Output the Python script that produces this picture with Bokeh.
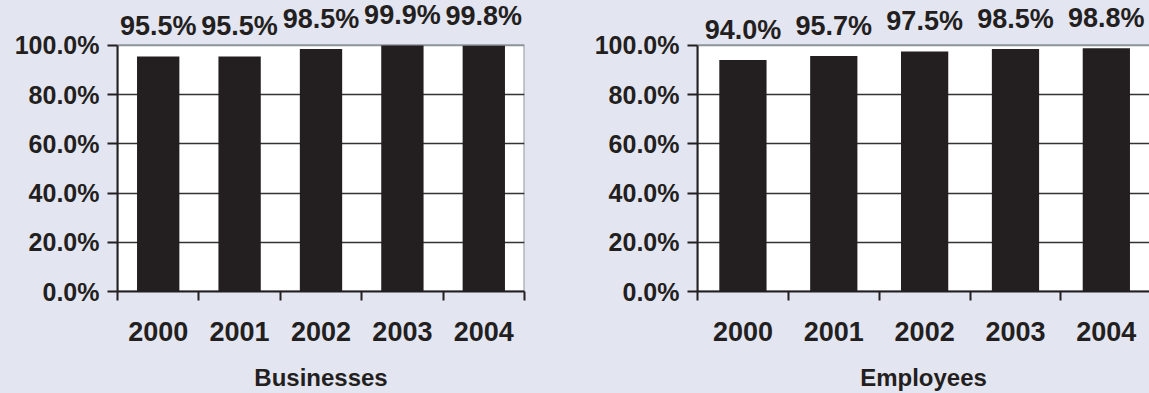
from bokeh.plotting import figure
from bokeh.layouts import row
from bokeh.models import (ColumnDataSource, Range1d, FixedTicker,
                          PrintfTickFormatter, BoxAnnotation, Grid)
from bokeh.core.properties import value
from bokeh.transform import dodge
from bokeh.embed import file_html
from bokeh.resources import INLINE

# Share of the total, by year
years = ["2000", "2001", "2002", "2003", "2004"]
businesses = [95.5, 95.5, 98.5, 99.9, 99.8]
employees = [94.0, 95.7, 97.5, 98.5, 98.8]
y_ticks = [0, 20, 40, 60, 80, 100]

BG = "#e3e5f1"
INK = "#231f20"
FRAME = "#8d939b"
FONT = "Liberation Sans"
Y_TOP = 118.2  # headroom above 100% for the value labels


def panel(title, values, width, border_left, border_right, x_end, label_gap):
    xs = [i + 0.5 for i in range(len(years))]
    src = ColumnDataSource(dict(x=xs, v=values, txt=[f"{v:.1f}%" for v in values]))

    p = figure(width=width, height=393,
               x_range=Range1d(0, x_end), y_range=Range1d(0, Y_TOP),
               output_backend="svg", toolbar_location=None,
               min_border_left=border_left, min_border_right=border_right,
               min_border_top=0, min_border_bottom=101,
               background_fill_color=BG, border_fill_color=BG,
               outline_line_color=None)

    p.xgrid.visible = False
    p.ygrid.visible = False

    # white plotting area from 0% to 100%, with a grey frame
    p.add_layout(BoxAnnotation(left=0, right=len(years), bottom=0, top=100,
                               fill_color="white", fill_alpha=1,
                               line_color=FRAME, line_alpha=1, line_width=2,
                               level="underlay"))
    p.add_layout(Grid(dimension=1, ticker=FixedTicker(ticks=[20, 40, 60, 80]),
                      grid_line_color="#333333", grid_line_width=1.5,
                      level="underlay"))

    p.vbar(x="x", top="v", width=0.52, bottom=0, source=src,
           fill_color=INK, line_color=None)

    # value labels above the bars
    p.text(x="x", y=dodge("v", label_gap, range=p.y_range), text="txt", source=src,
           text_align="center", text_baseline="alphabetic",
           text_font=value(FONT), text_font_style="bold",
           text_font_size=value("27px"), text_color=INK)

    # y axis
    yax = p.yaxis[0]
    yax.bounds = (0, 100)
    yax.ticker = FixedTicker(ticks=y_ticks)
    yax.formatter = PrintfTickFormatter(format="%.1f%%")
    yax.major_label_text_font = FONT
    yax.major_label_text_font_style = "bold"
    yax.major_label_text_font_size = "25px"
    yax.major_label_text_color = INK
    yax.major_label_standoff = 8
    yax.major_tick_out = 10
    yax.major_tick_in = 0
    yax.major_tick_line_width = 2
    yax.major_tick_line_color = INK
    yax.minor_tick_line_color = None
    yax.axis_line_width = 2
    yax.axis_line_color = INK

    # x axis: year names under the bars, tick marks between them
    xax = p.xaxis[0]
    xax.ticker = FixedTicker(ticks=xs, minor_ticks=list(range(len(years) + 1)))
    xax.major_label_overrides = {x: y for x, y in zip(xs, years)}
    xax.major_tick_line_color = None
    xax.major_tick_out = 0
    xax.major_tick_in = 0
    xax.minor_tick_out = 9
    xax.minor_tick_in = 0
    xax.minor_tick_line_width = 2
    xax.minor_tick_line_color = INK
    xax.axis_line_width = 2
    xax.axis_line_color = INK
    xax.major_label_standoff = 21
    xax.major_label_text_font = FONT
    xax.major_label_text_font_style = "bold"
    xax.major_label_text_font_size = "27px"
    xax.major_label_text_color = INK
    xax.axis_label = title
    xax.axis_label_standoff = 20
    xax.axis_label_text_font = FONT
    xax.axis_label_text_font_style = "bold"
    xax.axis_label_text_font_size = "24px"
    xax.axis_label_text_color = INK
    return p


left = panel("Businesses", businesses, 560, 117, 36, 5, 12.3)
right = panel("Employees", employees, 589, 137, 0, 4.975, 12.3)

layout = row(left, right, spacing=0, styles={"background-color": BG})
open("out.html", "w").write(file_html(layout, INLINE))
